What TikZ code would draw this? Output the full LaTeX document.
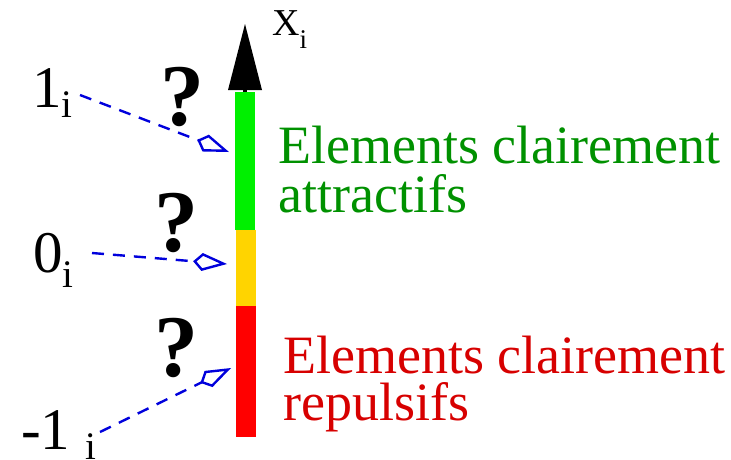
\documentclass[tikz,border=0pt]{standalone}
\usepackage{fontspec}
\setmainfont{Liberation Serif}
\usetikzlibrary{arrows.meta}
\definecolor{bargreen}{RGB}{0,240,0}
\definecolor{baryellow}{RGB}{255,212,0}
\definecolor{barred}{RGB}{255,0,0}
\definecolor{txtgreen}{RGB}{0,145,0}
\definecolor{txtred}{RGB}{215,0,0}
\definecolor{linkblue}{RGB}{0,0,220}
\begin{document}
\begin{tikzpicture}[x=1pt,y=-1pt,
  seg/.style={inner sep=0pt,minimum width=20pt},
  lab/.style={inner sep=0pt,anchor=base west,font=\fontsize{59}{59}\selectfont},
  qm/.style={inner sep=0pt,anchor=base west,font=\fontsize{88}{88}\selectfont\bfseries},
  desc/.style={inner sep=0pt,anchor=base west,align=left},
  link/.style={draw=linkblue,line width=2.4pt,dash pattern=on 12pt off 9pt,
    -{Kite[open,length=34pt,width=18pt,inset=9pt,line width=2.4pt]}},
  tipshape/.style={fill=black}]
\useasboundingbox (0,0) rectangle (731,459);
% bar segments
\node[seg,fill=bargreen,minimum height=138pt] (green) at (245,161) {};
\node[seg,fill=baryellow,minimum height=76pt] (yellow) at (246,268) {};
\node[seg,fill=barred,minimum height=131pt] (red) at (246,371.5) {};
% axis arrow
\coordinate (apex) at (245,24);
\coordinate (bl) at (228,90);
\coordinate (br) at (262,90);
\fill[tipshape] (apex) -- (br) -- (bl) -- cycle;
\draw[line width=4pt] (245,89) -- (green.north);
\node[lab,font=\fontsize{38}{38}\selectfont] (xi) at (272,35) {X\raisebox{-13pt}{\fontsize{27}{27}\selectfont i}};
% labels
\node[lab] (one) at (32,107) {1\raisebox{-10pt}{\fontsize{39}{39}\selectfont i}};
\node[lab] (zero) at (33,272) {0\raisebox{-15pt}{\fontsize{39}{39}\selectfont i}};
\node[lab] (mone) at (21,449) {-1\hspace{15pt}\raisebox{-10pt}{\fontsize{39}{39}\selectfont i}};
% question marks
\node[qm] (q1) at (160,125) {?};
\node[qm] (q2) at (154,251) {?};
\node[qm] (q3) at (154,376) {?};
% connectors
\coordinate (s1) at (80,95);
\coordinate (t1) at (229,152);
\coordinate (s0) at (92,253);
\coordinate (t0) at (227,264);
\coordinate (sm) at (100,432);
\coordinate (tm) at (231,368);
\draw[link] (s1) -- (t1);
\draw[link] (s0) -- (t0);
\draw[link] (sm) -- (tm);
% descriptions
\node[desc,text=txtgreen,font=\fontsize{54}{49}\selectfont] (att) at (278,212) {Elements clairement\\attractifs};
\node[desc,text=txtred,font=\fontsize{54}{47}\selectfont] (rep) at (283,420) {Elements clairement\\repulsifs};
\end{tikzpicture}
\end{document}
